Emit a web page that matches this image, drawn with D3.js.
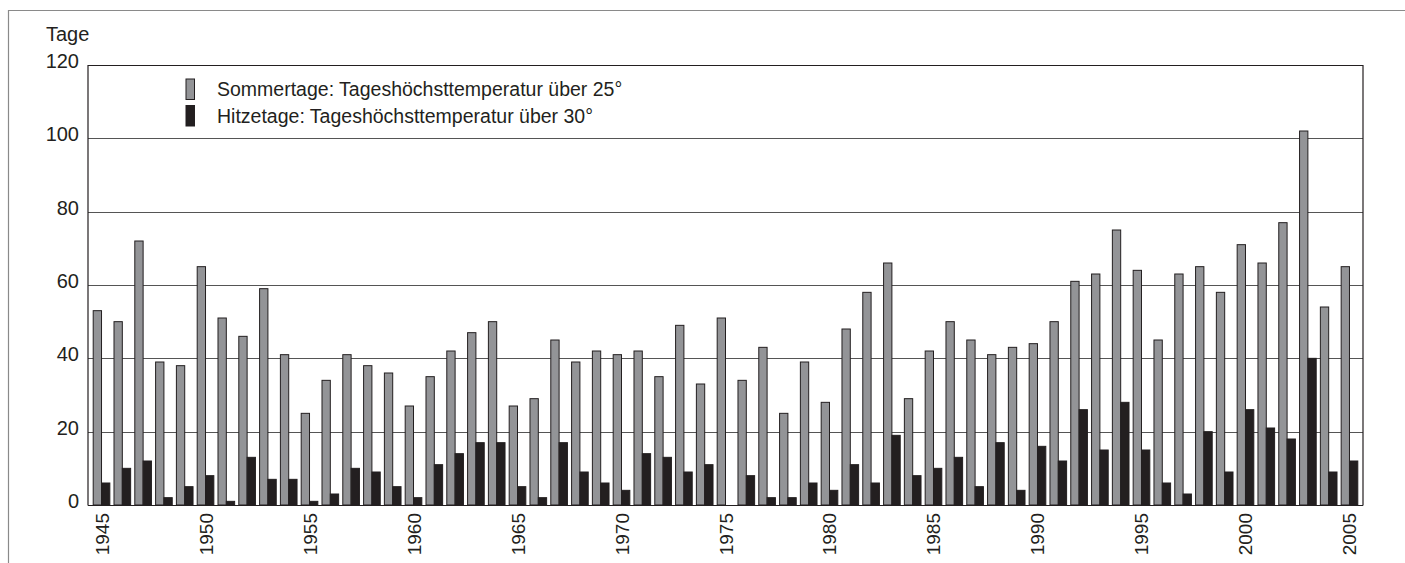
<!DOCTYPE html>
<html>
<head>
<meta charset="utf-8">
<script src="https://cdn.jsdelivr.net/npm/d3@7/dist/d3.min.js"></script>
<style>
  body { margin: 0; background: #fff; }
  text { font-family: "Liberation Sans", Arial, sans-serif; fill: #231f20; }
</style>
</head>
<body>
<script>
var width = 1405,
    height = 563;

// data
var years = d3.range(1945, 2006);
var sommertage = [53, 50, 72, 39, 38, 65, 51, 46, 59, 41,
                  25, 34, 41, 38, 36, 27, 35, 42, 47, 50,
                  27, 29, 45, 39, 42, 41, 42, 35, 49, 33,
                  51, 34, 43, 25, 39, 28, 48, 58, 66, 29,
                  42, 50, 45, 41, 43, 44, 50, 61, 63, 75,
                  64, 45, 63, 65, 58, 71, 66, 77, 102, 54, 65];
var hitzetage = [6, 10, 12, 2, 5, 8, 1, 13, 7, 7,
                 1, 3, 10, 9, 5, 2, 11, 14, 17, 17,
                 5, 2, 17, 9, 6, 4, 14, 13, 9, 11,
                 0, 8, 2, 2, 6, 4, 11, 6, 19, 8,
                 10, 13, 5, 17, 4, 16, 12, 26, 15, 28,
                 15, 6, 3, 20, 9, 26, 21, 18, 40, 9, 12];
var yTicks = [0, 20, 40, 60, 80, 100, 120];
var xTickYears = [1945, 1950, 1955, 1960, 1965, 1970, 1975, 1980, 1985, 1990, 1995, 2000, 2005];
var seriesNames = ["Sommertage: Tageshöchsttemperatur über 25°", "Hitzetage: Tageshöchsttemperatur über 30°"];
var seriesColors = ["#939497", "#231f20"];

var plot = {left: 88, right: 1363, top: 65, bottom: 505};

const svg = d3.select("body")
    .append("svg")
    .attr("width", width)
    .attr("height", height);

// outer frame (top + left visible)
svg.append("path")
    .attr("d", "M8.5,563 V10.5 H1405")
    .attr("fill", "none")
    .attr("stroke", "#8a8a8a")
    .attr("stroke-width", 1.2);

var x = d3.scaleBand()
    .domain(years)
    .range([plot.left, plot.right])
    .paddingInner(0.2)
    .paddingOuter(0.25);

var xSub = d3.scaleBand()
    .domain([0, 1])
    .range([0, x.bandwidth()]);

var y = d3.scaleLinear()
    .domain([0, 120])
    .range([plot.bottom, plot.top]);

// gridlines
svg.append("g")
    .selectAll("line")
    .data(yTicks.filter(function (d) { return d > 0 && d < 120; }))
    .enter().append("line")
    .attr("x1", plot.left)
    .attr("x2", plot.right)
    .attr("y1", function (d) { return Math.round(y(d)) + 0.5; })
    .attr("y2", function (d) { return Math.round(y(d)) + 0.5; })
    .attr("stroke", "#555")
    .attr("stroke-width", 1);

// plot frame: top, right, left, baseline
svg.append("path")
    .attr("d", "M" + plot.left + "," + (plot.bottom + 0.5) + " V" + (plot.top + 0.5) +
        " H" + plot.right + " V" + (plot.bottom + 0.5))
    .attr("fill", "none")
    .attr("stroke", "#231f20")
    .attr("stroke-width", 1.2);

// y tick labels
svg.append("g")
    .selectAll("text")
    .data(yTicks)
    .enter().append("text")
    .attr("x", 79)
    .attr("y", function (d) { return y(d) + 3; })
    .attr("text-anchor", "end")
    .style("font-size", "20px")
    .text(function (d) { return d; });

svg.append("text")
    .attr("x", 46)
    .attr("y", 41)
    .style("font-size", "20px")
    .text("Tage");

// bars
var groups = svg.append("g")
    .selectAll("g")
    .data(years)
    .enter().append("g")
    .attr("transform", function (d) { return "translate(" + x(d) + ",0)"; });

groups.selectAll("rect")
    .data(function (d, i) { return [sommertage[i], hitzetage[i]]; })
    .enter().append("rect")
    .filter(function (v) { return v > 0; })
    .attr("x", function (v, j) { return xSub(j); })
    .attr("width", xSub.bandwidth())
    .attr("y", function (v) { return y(v); })
    .attr("height", function (v) { return y(0) - y(v); })
    .attr("fill", function (v, j) { return seriesColors[j]; })
    .attr("stroke", "#231f20")
    .attr("stroke-width", 1);

// baseline redrawn over bars
svg.append("line")
    .attr("x1", plot.left)
    .attr("x2", plot.right)
    .attr("y1", plot.bottom + 0.5)
    .attr("y2", plot.bottom + 0.5)
    .attr("stroke", "#231f20")
    .attr("stroke-width", 1.2);

// x labels (rotated)
svg.append("g")
    .selectAll("text")
    .data(xTickYears)
    .enter().append("text")
    .attr("transform", function (d) {
        return "translate(" + (x(d) + x.bandwidth() / 2 + 7) + "," + 513 + ") rotate(-90)";
    })
    .attr("text-anchor", "end")
    .style("font-size", "19px")
    .text(function (d) { return d; });

// legend
var legend = svg.append("g");
legend.selectAll("rect")
    .data(seriesNames)
    .enter().append("rect")
    .attr("x", 186)
    .attr("y", function (d, i) { return 79 + i * 26.5; })
    .attr("width", 8.5)
    .attr("height", 20.5)
    .attr("fill", function (d, i) { return seriesColors[i]; })
    .attr("stroke", "#231f20")
    .attr("stroke-width", 1);

legend.selectAll("text")
    .data(seriesNames)
    .enter().append("text")
    .attr("x", 217)
    .attr("y", function (d, i) { return 96 + i * 27; })
    .style("font-size", "19.5px")
    .text(function (d) { return d; });
</script>
</body>
</html>
